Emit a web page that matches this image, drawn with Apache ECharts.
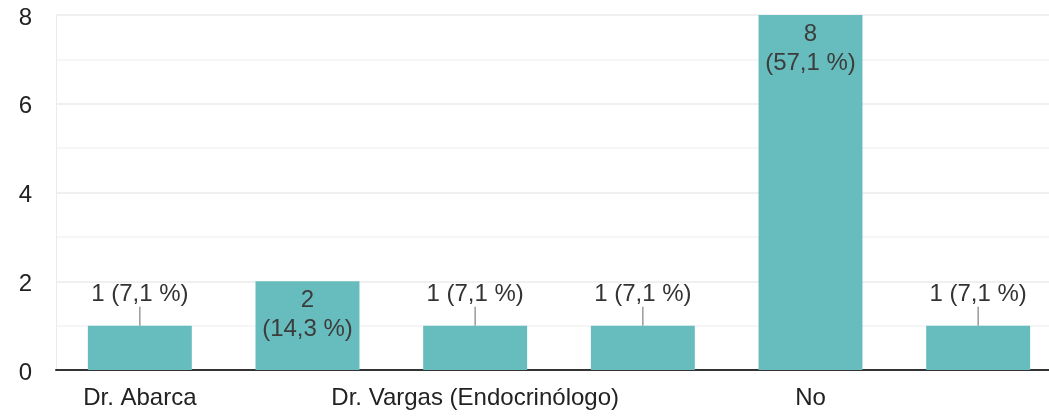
<!DOCTYPE html>
<html>
<head>
<meta charset="utf-8">
<script src="https://cdn.jsdelivr.net/npm/echarts@6/dist/echarts.min.js"></script>
<style>
html,body{margin:0;padding:0;background:#fff;overflow:hidden;width:1049px;height:417px;}
#chart{width:1062px;height:417px;}
</style>
</head>
<body>
<div id="chart"></div>
<script>
const categories = ["Dr. Abarca", "", "Dr. Vargas (Endocrinólogo)", "", "No", ""];
const values = [1, 2, 1, 1, 8, 1];
const yTicks = [0, 2, 4, 6, 8];

const total = values.reduce((a, b) => a + b, 0);
const pct = v => (v / total * 100).toFixed(1).replace('.', ',') + ' %';
const FONT = 'Arial, "Liberation Sans", sans-serif';

const data = values.map(v => {
  if (v >= 2) {
    return {
      value: v,
      label: {
        show: true, position: 'insideTop', distance: 5,
        formatter: v + '\n(' + pct(v) + ')',
        fontSize: 24, lineHeight: 29, color: '#3c3c3c', fontFamily: FONT
      }
    };
  }
  return {
    value: v,
    label: {
      show: true, position: 'top', distance: 4,
      formatter: v + ' (' + pct(v) + ')',
      fontSize: 24, color: '#333', fontFamily: FONT
    }
  };
});

const chart = echarts.init(document.getElementById('chart'));
chart.setOption({
  animation: false,
  grid: { left: 56, right: 0, top: 15, bottom: 47, containLabel: false },
  xAxis: {
    type: 'category',
    data: categories,
    axisLine: { show: true, lineStyle: { color: '#333', width: 2 } },
    axisTick: { show: false },
    axisLabel: { interval: 0, fontSize: 24, color: '#222', fontFamily: FONT, margin: 16 }
  },
  yAxis: {
    type: 'value',
    min: yTicks[0], max: yTicks[yTicks.length - 1], interval: 2,
    axisLine: { show: true, lineStyle: { color: '#ebebeb', width: 1 } },
    axisTick: { show: false },
    axisLabel: {
      fontSize: 24, color: '#222', fontFamily: FONT, margin: 24,
      formatter: v => '{a|' + v + '}',
      rich: { a: { fontSize: 24, color: '#222', fontFamily: FONT, padding: [6, 0, 0, 0] } }
    },
    splitLine: { lineStyle: { color: '#ebebeb', width: 1.5 } },
    minorTick: { show: false, splitNumber: 2 },
    minorSplitLine: { show: true, lineStyle: { color: '#f4f4f4', width: 1.5 } }
  },
  series: [{
    type: 'bar',
    data: data,
    barWidth: '62%',
    itemStyle: { color: '#67bcbd' },
    labelLayout: function (p) {
      return values[p.dataIndex] >= 2 ? {} : { dy: -15 };
    },
    labelLine: { show: true, lineStyle: { color: '#999', width: 1.5 } }
  }]
});
</script>
</body>
</html>
